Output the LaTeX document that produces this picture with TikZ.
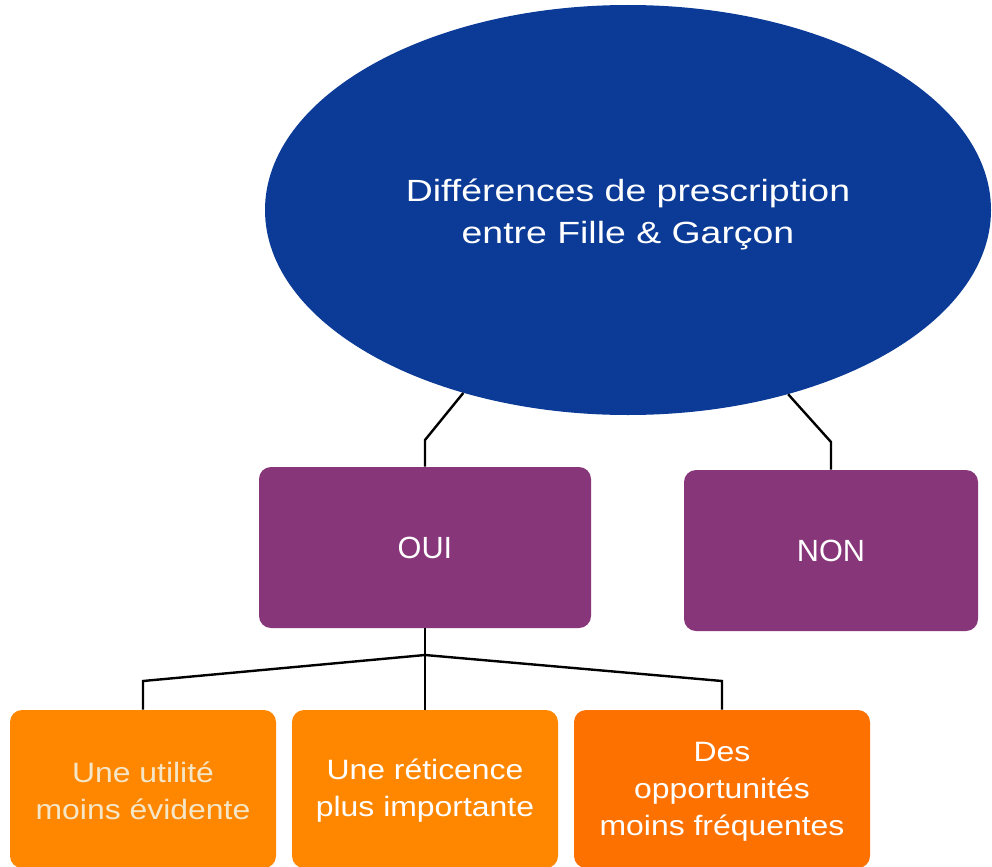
\documentclass[tikz,border=0pt]{standalone}
\usepackage{fontspec}
\setmainfont{Liberation Sans}
\newfontfamily\titlefont[FakeStretch=1.22]{Liberation Sans}
\newfontfamily\boxfont[FakeStretch=1.14]{Liberation Sans}
\usetikzlibrary{shapes.geometric}
\definecolor{ellblue}{HTML}{0B3B97}
\definecolor{oupurple}{HTML}{873679}
\definecolor{orangeA}{HTML}{FF8700}
\definecolor{orangeB}{HTML}{FC7100}
\definecolor{cream}{HTML}{F4E6C6}
\begin{document}
\begin{tikzpicture}[x=0.75pt,y=-0.75pt,
  link/.style={draw=black, line width=1.8pt},
  choicebox/.style={rectangle, rounded corners=9pt, fill=oupurple, text=white,
    font=\fontsize{23}{28}\selectfont, inner sep=0pt},
  reasonbox/.style={rectangle, rounded corners=9pt, fill=orangeA, minimum height={158*0.75pt}},
  reasontext/.style={text=white, align=center, inner sep=0pt,
    font=\boxfont\fontsize{21}{27.75}\selectfont}]
\useasboundingbox (0,0) rectangle (992,867);
\fill[white] (0,0) rectangle (992,867);
\clip (0,0) rectangle (992,867);

\node[ellipse, fill=ellblue, minimum width={726*0.75pt}, minimum height={410*0.75pt},
  inner sep=0pt] (ell) at (628,210) {};
\node[text=white, align=center, inner sep=0pt,
  font=\titlefont\fontsize{23}{31.5}\selectfont] (title) at (628,214)
  {Différences de prescription\\entre Fille \& Garçon};

\node[choicebox, minimum width={332*0.75pt}, minimum height={161*0.75pt}] (oui) at (425,547.5) {OUI};
\node[choicebox, minimum width={294*0.75pt}, minimum height={161*0.75pt}] (non) at (831,550.5) {NON};

\node[reasonbox, minimum width={266*0.75pt}] (r1) at (143,789) {};
\node[reasonbox, minimum width={266*0.75pt}] (r2) at (425,789) {};
\node[reasonbox, fill=orangeB, minimum width={296*0.75pt}] (r3) at (722,789) {};
\node[reasontext, text=cream] (t1) at (143,791) {Une utilité\\moins évidente};
\node[reasontext] (t2) at (425,791) {Une réticence\\plus importante};
\node[reasontext] (t3) at (722,792) {Des\\opportunités\\moins fréquentes};

\coordinate (k1) at (425,440);
\coordinate (k2) at (831,442);
\coordinate (hub) at (425,655);
\coordinate (kl) at (143,681);
\coordinate (kr) at (722,681);

\draw[link] (ell.228.5) -- (k1) -- (oui.north);
\draw[link] (ell.311.2) -- (k2) -- (non.north);
\draw[link] (oui.south) -- (hub) -- (r2.north);
\draw[link] (hub) -- (kl) -- (r1.north);
\draw[link] (hub) -- (kr) -- (r3.north);
\end{tikzpicture}
\end{document}
